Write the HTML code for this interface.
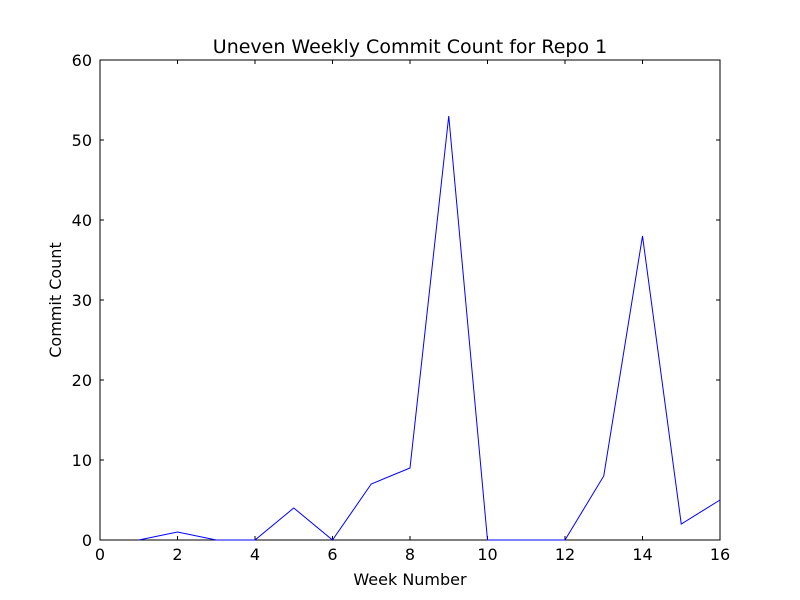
<!DOCTYPE html>
<html><head><meta charset="utf-8"><style>
body{margin:0;background:#fff;}
svg{display:block;font-family:"DejaVu Sans","Liberation Sans",sans-serif;}
</style></head><body>
<svg id="chart" width="800" height="600">
<rect x="0" y="0" width="800" height="600" fill="#fff"/>
<g id="g"></g>
</svg>
<script>
const weeks=[1,2,3,4,5,6,7,8,9,10,11,12,13,14,15,16];
const commits=[0,1,0,0,4,0,7,9,53,0,0,0,8,38,2,5];
const xTicks=[0,2,4,6,8,10,12,14,16];
const yTicks=[0,10,20,30,40,50,60];
const L=100,R=720,T=60,B=540;
const xs=v=>L+(v-0)/16*(R-L);
const ys=v=>B-(v-0)/60*(B-T);
const g=document.getElementById('g');
const NS='http://www.w3.org/2000/svg';
function mk(t,a,txt){const e=document.createElementNS(NS,t);for(const k in a)e.setAttribute(k,a[k]);if(txt!==undefined)e.textContent=txt;g.appendChild(e);return e;}
let frame=mk('rect',{x:L,y:T,width:R-L,height:B-T,fill:'none',stroke:'#000','stroke-width':1});


xTicks.forEach(v=>{
 const x=xs(v);
 mk('line',{x1:x,x2:x,y1:B,y2:B-4,stroke:'#000'});
 mk('line',{x1:x,x2:x,y1:T,y2:T+4,stroke:'#000'});
 let t=mk('text',{x:x,y:B+20,'text-anchor':'middle','font-size':16},v);
 
 
});
yTicks.forEach(v=>{
 const y=ys(v);
 mk('line',{x1:L,x2:L+4,y1:y,y2:y,stroke:'#000'});
 mk('line',{x1:R,x2:R-4,y1:y,y2:y,stroke:'#000'});
 let t=mk('text',{x:L-8,y:y+6,'text-anchor':'end','font-size':16},v);
 
 
});
let d=weeks.map((w,i)=>(i?'L':'M')+xs(w)+','+ys(commits[i])).join(' ');
let line=mk('path',{d:d,fill:'none',stroke:'#0000ff','stroke-width':1});


let ti=mk('text',{x:410,y:53,'text-anchor':'middle','font-size':19},'Uneven Weekly Commit Count for Repo 1');


let xl=mk('text',{x:410,y:585,'text-anchor':'middle','font-size':16},'Week Number');


let yl=mk('text',{x:61,y:300,'text-anchor':'middle','font-size':16,transform:'rotate(-90 61 300)'},'Commit Count');


</script>
</body></html>
